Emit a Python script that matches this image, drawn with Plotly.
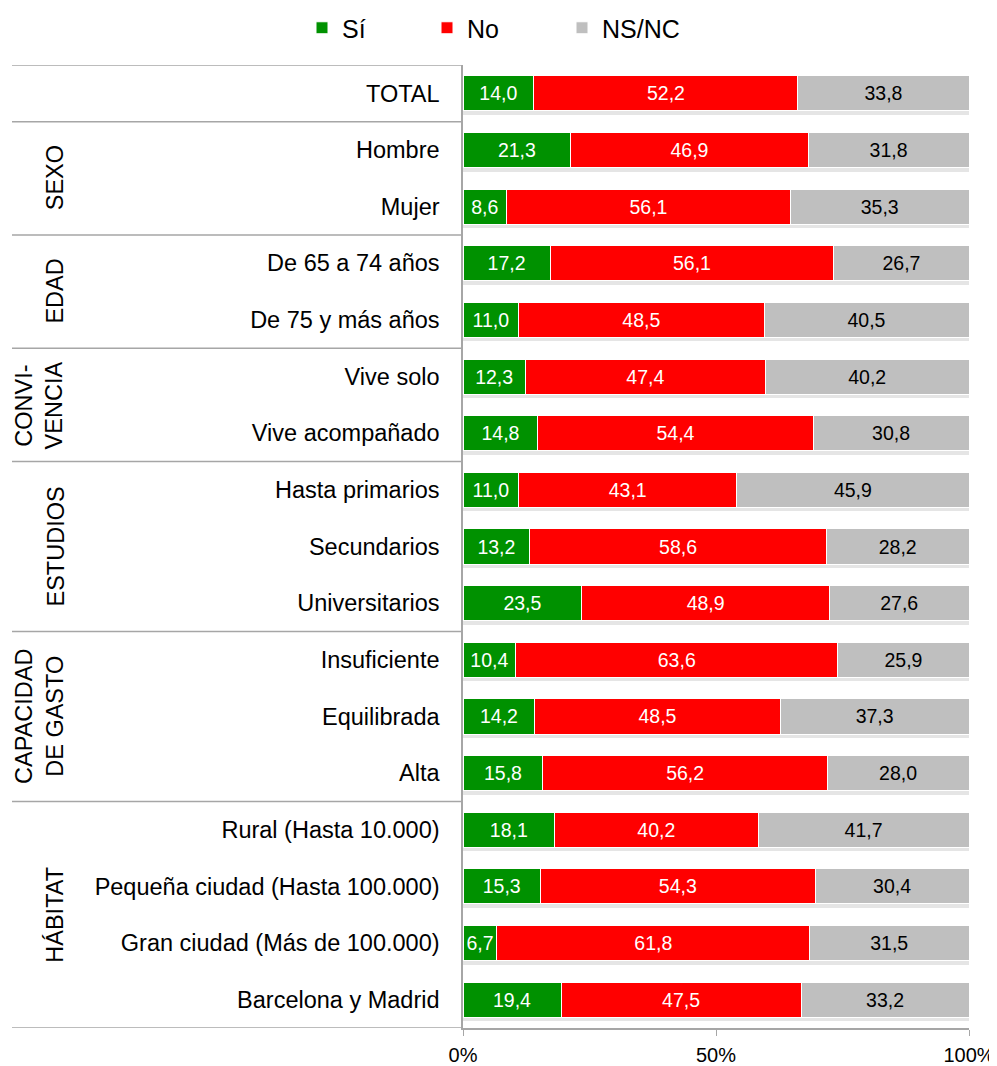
import plotly.graph_objects as go

categories = ["TOTAL", "Hombre", "Mujer", "De 65 a 74 años", "De 75 y más años",
              "Vive solo", "Vive acompañado", "Hasta primarios", "Secundarios",
              "Universitarios", "Insuficiente", "Equilibrada", "Alta",
              "Rural (Hasta 10.000)", "Pequeña ciudad (Hasta 100.000)",
              "Gran ciudad (Más de 100.000)", "Barcelona y Madrid"]
si = [14.0, 21.3, 8.6, 17.2, 11.0, 12.3, 14.8, 11.0, 13.2, 23.5, 10.4, 14.2, 15.8, 18.1, 15.3, 6.7, 19.4]
no = [52.2, 46.9, 56.1, 56.1, 48.5, 47.4, 54.4, 43.1, 58.6, 48.9, 63.6, 48.5, 56.2, 40.2, 54.3, 61.8, 47.5]
nsnc = [33.8, 31.8, 35.3, 26.7, 40.5, 40.2, 30.8, 45.9, 28.2, 27.6, 25.9, 37.3, 28.0, 41.7, 30.4, 31.5, 33.2]
series_names = ["Sí", "No", "NS/NC"]
colors = ["#009100", "#FF0000", "#BFBFBF"]
text_colors = ["white", "white", "black"]
groups = [("SEXO", 1, 2), ("EDAD", 3, 4), ("CONVI-<br>VENCIA", 5, 6),
          ("ESTUDIOS", 7, 9), ("CAPACIDAD<br>DE GASTO", 10, 12), ("HÁBITAT", 13, 16)]
tick_vals = [0, 50, 100]
tick_text = ["0%", "50%", "100%"]

FONT = "Liberation Sans, Arial, sans-serif"
ypos = list(range(len(categories)))
BW = 0.62

# page is offset by 8px body margin -> figure coords = page coords - 8
OFF = 8
W, H = 997 - OFF, 1066 - OFF
L, T = 463 - OFF, 65 - OFF
R, B = 28, 38
pw = W - L - R

def px2paper(px_page):
    return (px_page - OFF - L) / pw

fig = go.Figure()
# soft drop shadow
fig.add_trace(go.Bar(
    y=[p + 0.07 for p in ypos], x=[100] * len(ypos), orientation="h", width=BW,
    marker=dict(color="rgba(0,0,0,0.10)", line=dict(width=0)),
    showlegend=False, hoverinfo="skip"))

legend_ids = ["legend", "legend2", "legend3"]
for name, vals, c, tc, lg in zip(series_names, [si, no, nsnc], colors, text_colors, legend_ids):
    fig.add_trace(go.Bar(
        y=ypos, x=vals, name=name, orientation="h", width=BW, legend=lg,
        marker=dict(color=c, line=dict(color="white", width=1)),
        text=[f"{v:.1f}".replace(".", ",") for v in vals],
        textposition="inside", insidetextanchor="middle",
        textfont=dict(color=tc, size=19.5, family=FONT),
        hoverinfo="skip"))

shapes = []
for yb in [-0.5, 0.5, 2.5, 4.5, 6.5, 9.5, 12.5, 16.5]:
    shapes.append(dict(type="line", xref="paper", yref="y", x0=px2paper(12), x1=0,
                       y0=yb, y1=yb, line=dict(color="#A6A6A6", width=1.5)))

annotations = []
for label, a, b in groups:
    annotations.append(dict(text=label, xref="paper", yref="y", x=px2paper(70),
                            y=(a + b) / 2, textangle=-90, showarrow=False,
                            font=dict(size=23.5, color="black", family=FONT),
                            align="center", xanchor="right", yanchor="middle"))

text_starts = [342, 467, 602]
leg_y = 1 - (28 - OFF) / H
legends = {}
for lg, xs in zip(legend_ids, text_starts):
    legends[lg] = dict(orientation="h", xref="container", x=(xs - OFF - 40) / W,
                       xanchor="left", yref="container", y=leg_y, yanchor="middle",
                       font=dict(size=25, family=FONT, color="black"),
                       bgcolor="rgba(0,0,0,0)")

fig.update_layout(
    width=W, height=H, barmode="stack", barnorm="percent",
    margin=dict(l=L, r=R, t=T, b=B, autoexpand=False),
    plot_bgcolor="white", paper_bgcolor="white",
    font=dict(family=FONT, color="black"),
    shapes=shapes, annotations=annotations,
    xaxis=dict(range=[0, 100], tickvals=tick_vals, ticktext=tick_text,
               showgrid=False, zeroline=False, showline=True, linecolor="#A6A6A6",
               linewidth=1.5, ticks="outside", ticklen=6, tickcolor="#A6A6A6",
               ticklabelstandoff=2, automargin=False,
               tickfont=dict(size=20, family=FONT, color="black")),
    yaxis=dict(range=[16.5, -0.5], tickvals=ypos, ticktext=categories,
               showgrid=False, zeroline=False, showline=True, linecolor="#A6A6A6",
               linewidth=1.5, ticks="", ticklabelstandoff=17, automargin=False,
               tickfont=dict(size=23.5, family=FONT, color="black")),
    **legends,
)

fig.write_html("out.html")
